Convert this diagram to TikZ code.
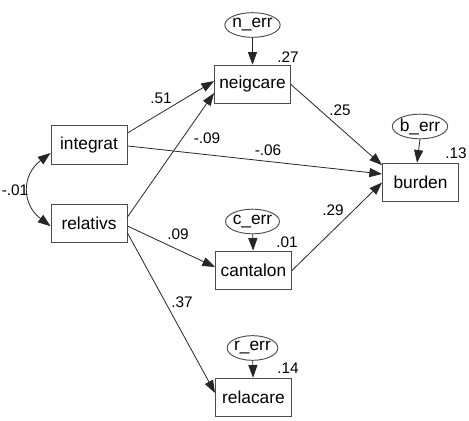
\documentclass[tikz,border=0pt]{standalone}
\usepackage{fontspec}
\setmainfont{Liberation Sans}
\usetikzlibrary{arrows.meta, shapes.geometric, positioning}

\begin{document}
\begin{tikzpicture}[
	x=0.75pt, y=-0.75pt,
	var box/.style={draw=black!70, line width=0.7pt, minimum width=57pt, minimum height=29pt, inner sep=0pt, font=\fontsize{13}{15}\selectfont},
	err oval/.style={draw=black!70, line width=0.7pt, ellipse, inner xsep=-0.5pt, inner ysep=0pt, minimum width=38pt, minimum height=18.5pt, font=\fontsize{13}{15}\selectfont},
	path arrow/.style={-{Triangle[length=9.5pt, width=6.8pt]}, line width=0.6pt, black!85},
	corr arrow/.style={{Triangle[length=9.5pt, width=6.8pt]}-{Triangle[length=9.5pt, width=6.8pt]}, line width=0.6pt, black!85},
	coef label/.style={font=\fontsize{11.5}{13}\selectfont},
	]
	\useasboundingbox (0,0) rectangle (469,421);
	
	% exogenous variables
	\node[var box] (integrat) at (89,145) {integrat};
	\node[var box] (relativs) at (89,223.5) {relativs};
	
	% endogenous variables
	\node[var box] (neigcare) at (252.5,84.5) {neigcare};
	\node[var box] (cantalon) at (253.5,270.5) {cantalon};
	\node[var box] (relacare) at (253.5,397.5) {relacare};
	\node[var box] (burden) at (420.5,182.5) {burden};
	
	% error terms
	\node[err oval] (nerr) at (252.5,25) {n\_err};
	\node[err oval] (cerr) at (252.5,221.5) {c\_err};
	\node[err oval] (rerr) at (252.5,348) {r\_err};
	\node[err oval] (berr) at (420,126.5) {b\_err};
	
	\draw[path arrow] (nerr) -- (neigcare);
	\draw[path arrow] (cerr) -- (cantalon);
	\draw[path arrow] (rerr) -- (relacare);
	\draw[path arrow] (berr.south) -- ([xshift=-2.6pt]burden.north);
	
	% paths
	\draw[path arrow] ([yshift=9pt]integrat.east) -- ([yshift=2.6pt]neigcare.west);
	\draw[path arrow] ([yshift=4.9pt]relativs.east) -- ([yshift=-6.4pt]neigcare.west);
	\draw[path arrow] ([yshift=-0.7pt]integrat.east) -- ([yshift=6.4pt]burden.west);
	\draw[path arrow] (neigcare.east) -- ([yshift=13pt]burden.west);
	\draw[path arrow] (cantalon.east) -- (burden.west);
	\draw[path arrow] ([yshift=-1.9pt]relativs.east) -- ([yshift=2.6pt]cantalon.west);
	\draw[path arrow] ([yshift=-7.1pt]relativs.east) -- ([yshift=3.4pt]relacare.west);
	
	% correlation
	\draw[corr arrow] ([yshift=-6pt]integrat.west) .. controls +(-29,22) and +(-29,-22) .. ([yshift=-2pt]relativs.west);
	
	% coefficients
	\node[coef label] (c1) at (161,98) {.51};
	\node[coef label] (c2) at (207,138) {-.09};
	\node[coef label] (c3) at (268,150) {-.06};
	\node[coef label] (c4) at (340,110) {.25};
	\node[coef label] (c5) at (333,210) {.29};
	\node[coef label] (c6) at (178,234) {.09};
	\node[coef label] (c7) at (182,302) {.37};
	\node[coef label] (c8) at (15,190) {-.01};
	
	% squared multiple correlations
	\node[coef label] (r1) at (288,57) {.27};
	\node[coef label] (r2) at (456,153) {.13};
	\node[coef label] (r3) at (287,242) {.01};
	\node[coef label] (r4) at (288,368) {.14};
	
\end{tikzpicture}
\end{document}
